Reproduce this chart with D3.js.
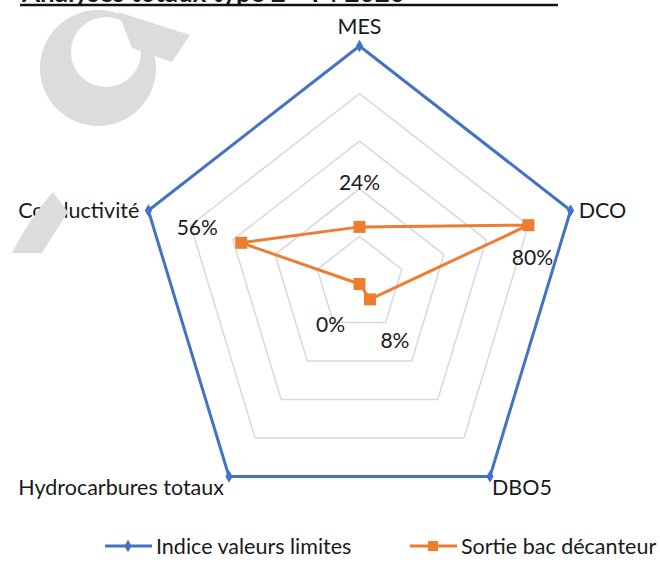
<!DOCTYPE html>
<html>
<head>
<meta charset="utf-8">
<script src="https://cdn.jsdelivr.net/npm/d3@7"></script>
<style>
  html, body { margin: 0; padding: 0; background: #ffffff; }
  svg { display: block; }
  text { font-family: Lato, "Open Sans", sans-serif; fill: #1a1a1a; }
</style>
</head>
<body>
<svg id="chart" width="660" height="573"></svg>
<script>
// ---- data ----
const categories = ["MES", "DCO", "DBO5", "Hydrocarbures totaux", "Conductivité"];
const seriesNames = ["Indice valeurs limites", "Sortie bac décanteur"];
const limitValues = [1, 1, 1, 1, 1];
const outletValues = [0.24, 0.80, 0.08, 0.00, 0.56];
const outletLabels = ["24%", "80%", "8%", "0%", "56%"];
const gridLevels = [0.2, 0.4, 0.6, 0.8, 1.0];
const titleText = "Analyses totaux type 2 - T4 2020";

// ---- layout ----
const cx = 359.5, cy = 284;
const blue = "#4472C4", orange = "#ED7D31", gridColor = "#d9d9d9";

const svg = d3.select("#chart");

const rx = d3.scaleLinear().domain([0, 1]).range([0, 222]);
const ry = d3.scaleLinear().domain([0, 1]).range([0, 238]);
const angle = d3.scalePoint().domain(d3.range(categories.length + 1)).range([0, 2 * Math.PI]);
function pt(i, v) {
  const a = angle(i);
  return [cx + rx(v) * Math.sin(a), cy - ry(v) * Math.cos(a)];
}
const closedLine = d3.line().curve(d3.curveLinearClosed);

// title (cut off at the top edge in the original)
const title = svg.append("g");
title.append("text").attr("x", 22).attr("y", 1.5)
  .style("font-weight", "bold").style("font-size", "26px").text(titleText);
title.append("line").attr("x1", 20).attr("x2", 558).attr("y1", 5).attr("y2", 5)
  .attr("stroke", "#111").attr("stroke-width", 2.5);

// grid
svg.append("g").selectAll("path").data(gridLevels).join("path")
  .attr("d", lv => closedLine(categories.map((c, i) => pt(i, lv))))
  .attr("fill", "none").attr("stroke", gridColor).attr("stroke-width", 1.5);

// limit series (blue)
const limitPts = limitValues.map((v, i) => pt(i, v));
svg.append("path").attr("d", closedLine(limitPts))
  .attr("fill", "none").attr("stroke", blue).attr("stroke-width", 3).attr("stroke-linejoin", "round");
svg.append("g").selectAll("path").data(limitPts).join("path")
  .attr("d", d3.symbol(d3.symbolDiamond, 45))
  .attr("transform", d => `translate(${d[0]},${d[1]})`)
  .attr("fill", blue);

// outlet series (orange)
const outPts = outletValues.map((v, i) => pt(i, v));
svg.append("path").attr("d", closedLine(outPts))
  .attr("fill", "none").attr("stroke", orange).attr("stroke-width", 3).attr("stroke-linejoin", "round");
svg.append("g").selectAll("rect").data(outPts).join("rect")
  .attr("x", d => d[0] - 6).attr("y", d => d[1] - 6).attr("width", 12).attr("height", 12)
  .attr("fill", orange);

// data labels (moved as in the original)
const labelOffsets = [[0, -44], [4, 32], [25, 41], [-29, 41], [-44, -15]];
svg.append("g").selectAll("text").data(outPts).join("text")
  .attr("x", (d, i) => d[0] + labelOffsets[i][0])
  .attr("y", (d, i) => d[1] + labelOffsets[i][1])
  .attr("text-anchor", "middle").attr("dy", "0.35em")
  .style("font-size", "21px").text((d, i) => outletLabels[i]);

// category labels
const catPos = categories.map((c, i) => pt(i, 1));
const catCfg = [
  { dx: 0, dy: -20, anchor: "middle" },
  { dx: 8, dy: 0, anchor: "start" },
  { dx: 2, dy: 11, anchor: "start" },
  { dx: -5, dy: 11, anchor: "end" },
  { dx: -9, dy: 0, anchor: "end" }
];
svg.append("g").selectAll("text").data(categories).join("text")
  .attr("x", (d, i) => catPos[i][0] + catCfg[i].dx)
  .attr("y", (d, i) => catPos[i][1] + catCfg[i].dy)
  .attr("text-anchor", (d, i) => catCfg[i].anchor).attr("dy", "0.35em")
  .style("font-size", "21.5px").text(d => d);

// legend
const legend = svg.append("g").attr("transform", "translate(0,546)");
const legItems = [
  { name: seriesNames[0], color: blue, x: 105, marker: "diamond" },
  { name: seriesNames[1], color: orange, x: 410, marker: "square" }
];
legItems.forEach(it => {
  legend.append("line").attr("x1", it.x).attr("x2", it.x + 47).attr("y1", 0).attr("y2", 0)
    .attr("stroke", it.color).attr("stroke-width", 3);
  if (it.marker === "diamond") {
    legend.append("path").attr("d", d3.symbol(d3.symbolDiamond, 45)())
      .attr("transform", `translate(${it.x + 23},0)`).attr("fill", it.color);
  } else {
    legend.append("rect").attr("x", it.x + 18).attr("y", -5).attr("width", 10).attr("height", 10)
      .attr("fill", it.color);
  }
  legend.append("text").attr("x", it.x + 51).attr("y", 0).attr("dy", "0.35em")
    .style("font-size", "21.5px").text(it.name);
});

// scan watermark (light grey shapes over the top-left)
const wm = svg.append("g").style("pointer-events", "none");
const ring = d3.path();
ring.arc(98, 68, 58, 0, 2 * Math.PI); ring.closePath();
ring.moveTo(106 + 35, 52); ring.arc(106, 52, 35, 0, 2 * Math.PI); ring.closePath();
wm.append("path").attr("d", ring.toString()).attr("fill", "#dcdcdc").attr("fill-rule", "evenodd");
wm.append("path").attr("d", "M118,12 L190,35 L172,62 L132,48 Z").attr("fill", "#dcdcdc");
wm.append("path")
  .attr("d", "M53,192 L68,212 C59,226 50,240 42,253 L12,253 C22,233 37,210 53,192 Z")
  .attr("fill", "#dcdcdc");
</script>
</body>
</html>
